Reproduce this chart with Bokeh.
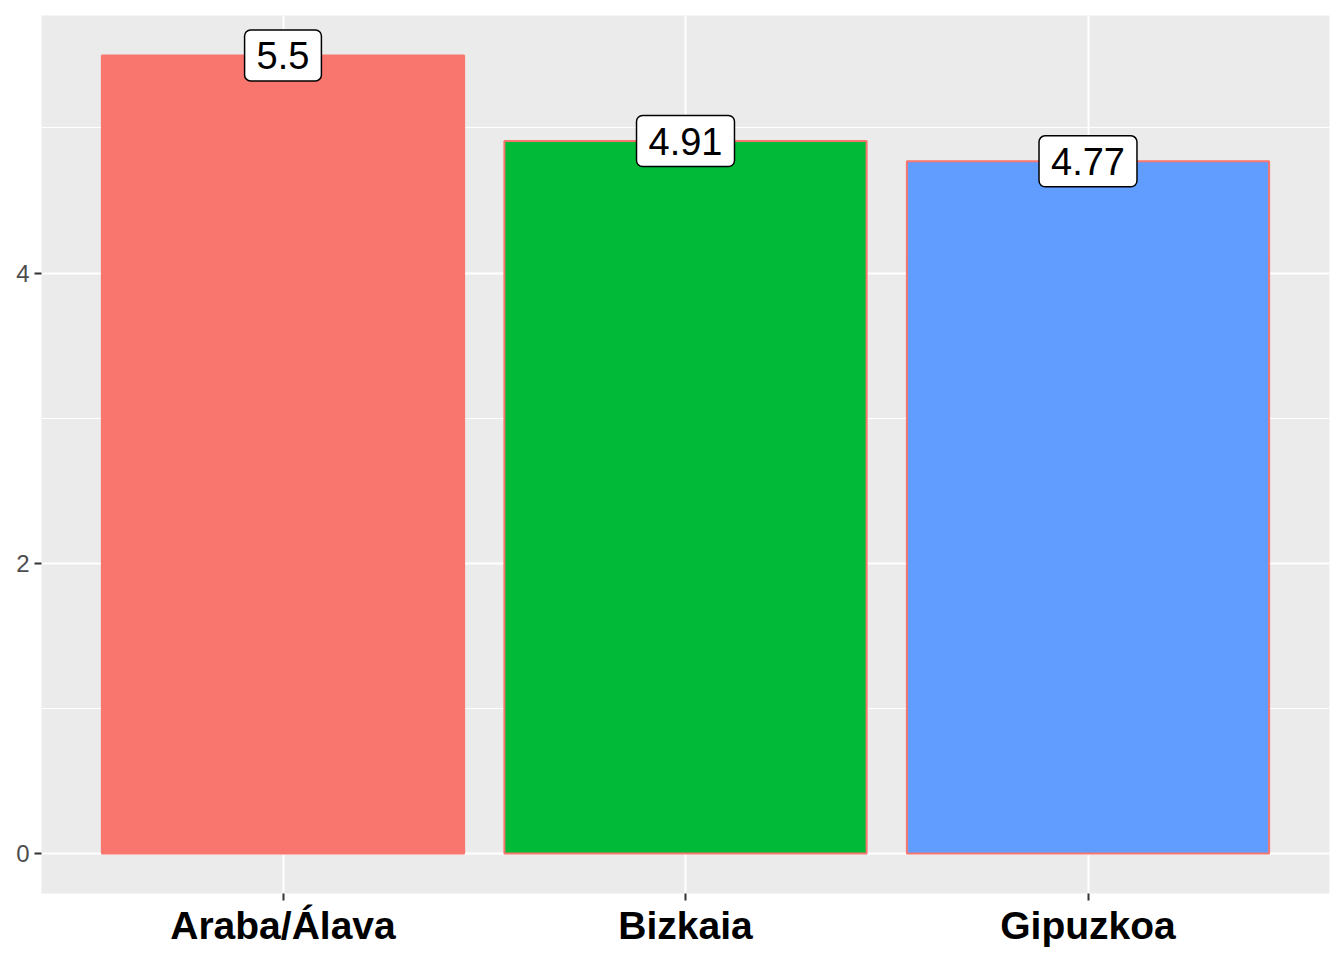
from bokeh.plotting import figure
from bokeh.models import ColumnDataSource, Range1d, FixedTicker, SingleIntervalTicker
from bokeh.core.properties import value
from bokeh.embed import file_html
from bokeh.resources import INLINE

categories = ["Araba/Álava", "Bizkaia", "Gipuzkoa"]
values = [5.5, 4.91, 4.77]
labels = ["5.5", "4.91", "4.77"]
colors = ["#F8766D", "#00BA38", "#619CFF"]
positions = [1, 2, 3]

src = ColumnDataSource(dict(x=positions, top=values, lab=labels, color=colors))

p = figure(frame_width=1288, frame_height=878, output_backend="svg", toolbar_location=None,
           x_range=Range1d(0.4, 3.6), y_range=Range1d(-0.275, 5.775),
           min_border_left=41, min_border_top=15, min_border_right=7, min_border_bottom=59)
p.background_fill_color = "#EBEBEB"
p.border_fill_color = "white"
p.outline_line_color = None

p.vbar(x="x", top="top", bottom=0, width=0.9, source=src, fill_color="color",
       line_color="#F8766D", line_width=2)

p.text(x="x", y="top", text="lab", source=src, text_align="center", text_baseline="middle",
       text_font=value("Liberation Sans"), text_font_size="38px", text_color="black",
       background_fill_color="white", border_line_color="black", border_line_width=1.5,
       border_radius=6, padding=dict(left=12, right=12, top=12, bottom=12))

# axes
p.xaxis.ticker = FixedTicker(ticks=positions)
p.xaxis.major_label_overrides = {pos: c for pos, c in zip(positions, categories)}
p.xaxis.major_label_text_font = "Liberation Sans"
p.xaxis.major_label_text_font_style = "bold"
p.xaxis.major_label_text_font_size = "39px"
p.xaxis.major_label_text_color = "black"
p.xaxis.major_label_standoff = 3
p.xaxis.axis_line_color = None
p.xaxis.major_tick_line_color = "#333333"
p.xaxis.major_tick_line_width = 2
p.xaxis.major_tick_out = 7
p.xaxis.major_tick_in = 0
p.xaxis.minor_tick_line_color = None

p.yaxis.ticker = SingleIntervalTicker(interval=2, num_minor_ticks=2)
p.yaxis.major_label_text_font = "Liberation Sans"
p.yaxis.major_label_text_font_size = "24px"
p.yaxis.major_label_text_color = "#4D4D4D"
p.yaxis.major_label_standoff = 5
p.yaxis.axis_line_color = None
p.yaxis.major_tick_line_color = "#333333"
p.yaxis.major_tick_line_width = 2
p.yaxis.major_tick_out = 7
p.yaxis.major_tick_in = 0
p.yaxis.minor_tick_line_color = None

p.xgrid.grid_line_color = "white"
p.xgrid.grid_line_width = 2
p.ygrid.grid_line_color = "white"
p.ygrid.grid_line_width = 2
p.ygrid.minor_grid_line_color = "white"
p.ygrid.minor_grid_line_width = 1

open("out.html", "w").write(file_html(p, INLINE))
